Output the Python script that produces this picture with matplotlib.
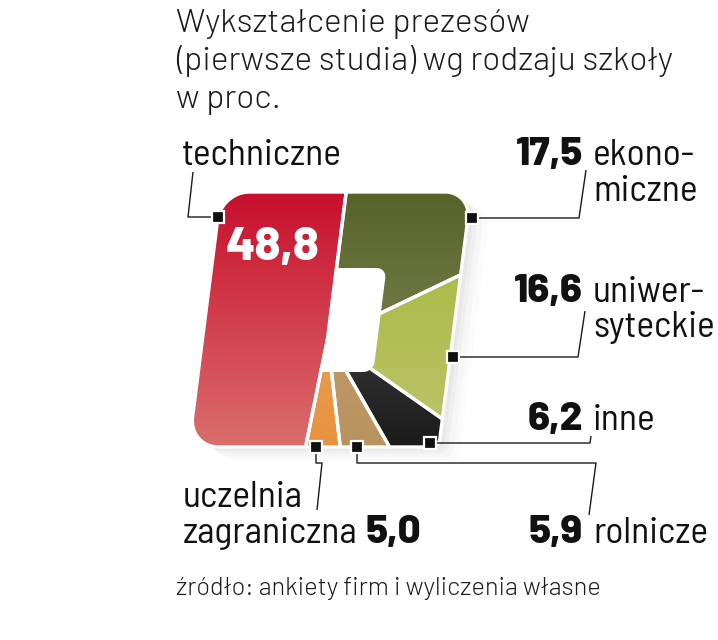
import numpy as np
import matplotlib
matplotlib.use("Agg")
import matplotlib.pyplot as plt
from matplotlib.patches import Polygon
from matplotlib.colors import LinearSegmentedColormap

# --- data -------------------------------------------------------------
title_lines = ["Wykształcenie prezesów", "(pierwsze studia) wg rodzaju szkoły", "w proc."]
source = "źródło: ankiety firm i wyliczenia własne"

# clockwise from the top: ekonomiczne ... uczelnia zagraniczna, then techniczne
categories = ["ekonomiczne", "uniwersyteckie", "inne", "rolnicze", "uczelnia zagraniczna", "techniczne"]
values = [17.5, 16.6, 6.2, 5.9, 5.0, 48.8]
colors_top = ["#56632a", "#a3b83a", "#5a5a5a", "#caa878", "#eeaa66", "#c80f2e"]
colors_bottom = ["#8b8f5e", "#bcc46c", "#1b1b1b", "#b8925f", "#e8923f", "#db6e6d"]

# --- geometry (pixels) ------------------------------------------------
CX, CY = 330.0, 319.5      # centre of the slanted block
SKEW = 0.127               # x shift per px of height
HW, HH = 125.0, 127.5      # half width / half height
PIE_C = (0.0, -19.0)       # wedge apex, local coords
HOLE = (-30.0, 50.0, -52.5, 51.5)


def to_img(pts):
    pts = np.asarray(pts, dtype=float)
    return np.column_stack([CX + pts[:, 0] + SKEW * pts[:, 1], CY - pts[:, 1]])


def rounded_rect(x0, x1, y0, y1, radii, n=14):
    rbl, rbr, rtr, rtl = radii
    pts = []
    for (cx, cy, r, a0) in [(x0 + rbl, y0 + rbl, rbl, 180), (x1 - rbr, y0 + rbr, rbr, 270),
                            (x1 - rtr, y1 - rtr, rtr, 0), (x0 + rtl, y1 - rtl, rtl, 90)]:
        t = np.radians(np.linspace(a0, a0 + 90, n))
        pts += list(zip(cx + r * np.cos(t), cy + r * np.sin(t)))
    return np.array(pts)


def clip_poly(subject, clip):
    # Sutherland-Hodgman, clip polygon convex and counter-clockwise
    out = list(map(tuple, subject))
    for i in range(len(clip)):
        a, b = clip[i], clip[(i + 1) % len(clip)]
        inp, out = out, []
        if not inp:
            break

        def inside(p):
            return (b[0] - a[0]) * (p[1] - a[1]) - (b[1] - a[1]) * (p[0] - a[0]) >= 0

        def cross(p, q):
            dx, dy = q[0] - p[0], q[1] - p[1]
            ex, ey = b[0] - a[0], b[1] - a[1]
            t = ((a[0] - p[0]) * ey - (a[1] - p[1]) * ex) / (dx * ey - dy * ex)
            return (p[0] + t * dx, p[1] + t * dy)

        s = inp[-1]
        for e in inp:
            if inside(e):
                if not inside(s):
                    out.append(cross(s, e))
                out.append(e)
            elif inside(s):
                out.append(cross(s, e))
            s = e
    return np.array(out)


fig = plt.figure(figsize=(7.18, 6.4), dpi=100)
ax = fig.add_axes([0, 0, 1, 1])
ax.set_axis_off()

outer = rounded_rect(-HW, HW, -HH, HH, (30, 8, 26, 28))
outer_img = to_img(outer)

# soft shadow
for k, a in zip([20, 14, 9, 5], [0.03, 0.04, 0.05, 0.06]):
    ax.add_patch(Polygon(outer_img + [k, k * 0.7], closed=True, facecolor="#808080",
                         edgecolor="none", alpha=a, zorder=1))

total = sum(values)
start = 90.0
wedges = []
for v in values:
    t2 = start
    t1 = start - 360.0 * v / total
    start = t1
    t = np.radians(np.linspace(t1, t2, 80))
    poly = [PIE_C] + list(zip(PIE_C[0] + 600 * np.cos(t), PIE_C[1] + 600 * np.sin(t)))
    wedges.append(to_img(clip_poly(poly, outer)))

y_top, y_bot = outer_img[:, 1].min(), outer_img[:, 1].max()
x_lo, x_hi = outer_img[:, 0].min(), outer_img[:, 0].max()
grad = np.linspace(0, 1, 256).reshape(-1, 1)

for i, (poly, ct, cb) in enumerate(zip(wedges, colors_top, colors_bottom)):
    z = 6 if i == len(wedges) - 1 else 2
    patch = Polygon(poly, closed=True, facecolor=cb, edgecolor="none",
                    transform=ax.transData, zorder=z)
    ax.add_patch(patch)
    cmap = LinearSegmentedColormap.from_list(f"g{i}", [ct, cb])
    im = ax.imshow(grad, cmap=cmap, extent=(x_lo, x_hi, y_bot, y_top), origin="upper",
                   aspect="auto", interpolation="bilinear", zorder=z + 0.5)
    im.set_clip_path(patch)

hole = rounded_rect(HOLE[0], HOLE[1], HOLE[2], HOLE[3], (10, 10, 10, 10))
ax.add_patch(Polygon(to_img(hole), closed=True, facecolor="white", edgecolor="none", zorder=4))

for poly in wedges:
    ax.add_patch(Polygon(poly, closed=True, facecolor="none", edgecolor="white",
                         lw=2.4, joinstyle="round", zorder=8))

# --- leaders ----------------------------------------------------------
leaders = {
    "techniczne": [(193, 172), (188, 217), (218, 217)],
    "ekonomiczne": [(472, 218), (579, 218), (586, 170)],
    "uniwersyteckie": [(453, 357), (578, 357), (585, 311)],
    "inne": [(430, 443), (590, 443), (591, 436)],
    "rolnicze": [(357, 447), (357, 463), (596, 463), (589, 515)],
    "uczelnia zagraniczna": [(316, 447), (316, 463), (322, 463), (317, 510)],
}
markers = {
    "techniczne": (218, 217), "ekonomiczne": (472, 218), "uniwersyteckie": (453, 357),
    "inne": (430, 443), "rolnicze": (357, 447), "uczelnia zagraniczna": (316, 447),
}
for name, pts in leaders.items():
    pts = np.array(pts)
    ax.plot(pts[:, 0], pts[:, 1], color="#1a1a1a", lw=1.0, zorder=9, solid_capstyle="butt")
    mx, my = markers[name]
    ax.plot([mx], [my], marker="s", ms=8, color="#111111", mec="white", mew=1.6, zorder=10)

# --- text -------------------------------------------------------------
TITLE_FONT = dict(family=["Barlow", "Roboto", "DejaVu Sans"], weight=300, color="#1c1c1c")
LAB_FONT = dict(family=["Barlow Semi Condensed", "Roboto Condensed", "DejaVu Sans"], color="#111111")
NUM_FAMILY = ["Barlow", "Roboto", "DejaVu Sans"]

for i, line in enumerate(title_lines):
    ax.text(176, 32 + 38 * i, line, fontsize=24, va="baseline", ha="left", **TITLE_FONT)
ax.text(176, 595, source, fontsize=18.3, va="baseline", ha="left", **TITLE_FONT)

fmt = {c: f"{v:.1f}".replace(".", ",") for c, v in zip(categories, values)}
LS = 27
NS = 29


def num(x, y, s, ha, size=NS, color="#111111"):
    ax.text(x, y, s, fontsize=size, va="baseline", ha=ha, family=NUM_FAMILY,
            weight=800, color=color, zorder=12)


ax.text(182, 165, "techniczne", fontsize=LS, va="baseline", ha="left", **LAB_FONT)
num(226, 260, fmt["techniczne"], "left", size=34, color="white")

num(583, 165, fmt["ekonomiczne"], "right")
ax.text(593, 165, "ekono-", fontsize=LS, va="baseline", ha="left", **LAB_FONT)
ax.text(593, 201, "miczne", fontsize=LS, va="baseline", ha="left", **LAB_FONT)

num(583, 302, fmt["uniwersyteckie"], "right")
ax.text(593, 302, "uniwer-", fontsize=LS, va="baseline", ha="left", **LAB_FONT)
ax.text(593, 337, "syteckie", fontsize=LS, va="baseline", ha="left", **LAB_FONT)

num(583, 430, fmt["inne"], "right")
ax.text(593, 430, "inne", fontsize=LS, va="baseline", ha="left", **LAB_FONT)

num(583, 543, fmt["rolnicze"], "right")
ax.text(593, 543, "rolnicze", fontsize=LS, va="baseline", ha="left", **LAB_FONT)

ax.text(183, 507, "uczelnia", fontsize=LS, va="baseline", ha="left", **LAB_FONT)
ax.text(183, 543, "zagraniczna", fontsize=LS, va="baseline", ha="left", **LAB_FONT)
num(366, 543, fmt["uczelnia zagraniczna"], "left")

ax.set_xlim(0, 718)
ax.set_ylim(640, 0)
fig.savefig("out.png", dpi=100, facecolor="white")
